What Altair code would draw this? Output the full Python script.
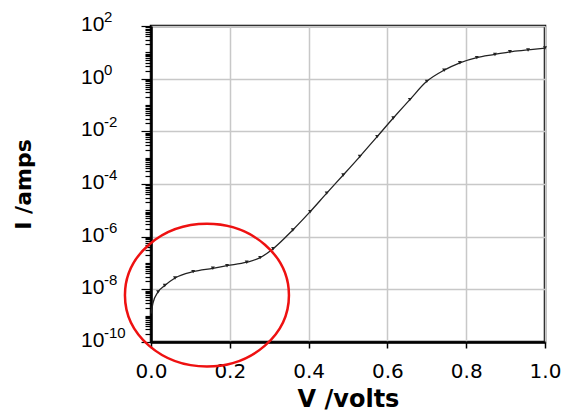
import altair as alt
import pandas as pd

# Curve data (V in volts, I in amps)
volts = [0.000, 0.005, 0.018, 0.035, 0.061, 0.107, 0.157, 0.193, 0.243, 0.277,
         0.310, 0.360, 0.404, 0.446, 0.488, 0.530, 0.574, 0.615, 0.657, 0.700,
         0.744, 0.784, 0.827, 0.873, 0.911, 0.957, 1.000]
amps = [1.2e-9, 3e-9, 8e-9, 1.4e-8, 2.7e-8, 4.7e-8, 6.3e-8, 7.9e-8, 1.07e-7, 1.6e-7,
        3.5e-7, 1.8e-6, 8.9e-6, 4.5e-5, 2.2e-4, 1.1e-3, 6.3e-3, 0.032, 0.16, 0.79,
        2.1, 4.0, 6.3, 8.3, 10.5, 12.3, 14.5]

# Y tick labels (10^exponent)
y_label_values = [1e2, 1e0, 1e-2, 1e-4, 1e-6, 1e-8, 1e-10]
y_label_exps = ["2", "0", "-2", "-4", "-6", "-8", "-10"]

# X ticks
x_ticks = [0.0, 0.2, 0.4, 0.6, 0.8, 1.0]

# Red ellipse annotation centre
ellipse_v = [0.142]
ellipse_i = [6e-9]

# minor tick positions on log axis
y_tick_values = [m * 10.0 ** e for e in range(-10, 2) for m in range(1, 10)] + [100.0]

df = pd.DataFrame({"V": volts, "I": amps})
labels_df = pd.DataFrame({"I": y_label_values, "exp": y_label_exps})
ell_df = pd.DataFrame({"V": ellipse_v, "I": ellipse_i})

major_test = ("abs(log(datum.value)/LN10 - round(log(datum.value)/LN10)) < 0.001 && "
              "round(log(datum.value)/LN10) % 2 == 0")

xscale = alt.Scale(domain=[0, 1], nice=False, zero=False)
yscale = alt.Scale(type="log", domain=[1e-10, 1e2], nice=False)

x_enc = alt.X("V:Q", scale=xscale, axis=alt.Axis(
    values=x_ticks, format=".1f", title="V /volts",
    labelFont="DejaVu Sans", labelFontSize=20, labelColor="black",
    labelFlush=False, labelPadding=13, tickSize=6, tickColor="black", tickWidth=1.5,
    domainColor="black", domainWidth=2.5,
    grid=True, gridColor="#c8c8c8", gridWidth=1.5,
    titleFont="DejaVu Sans", titleFontSize=24, titleFontWeight="bold",
    titleColor="black", titleBaseline="middle", titleY=57))

y_enc = alt.Y("I:Q", scale=yscale, axis=alt.Axis(
    values=y_tick_values, labels=False, title="I /amps",
    tickColor="black", tickWidth=1.2,
    tickSize={"condition": {"test": major_test, "value": 10}, "value": 6},
    domainColor="black", domainWidth=2.5,
    grid=True, gridColor="#c8c8c8", gridWidth=1.5,
    gridOpacity={"condition": {"test": major_test, "value": 1}, "value": 0},
    titleFont="DejaVu Sans", titleFontSize=22, titleFontWeight="bold",
    titleColor="black", titleAngle=270, titleAlign="center",
    titleBaseline="middle", titleX=-128, titleY=158))

line = alt.Chart(df).mark_line(color="#222222", strokeWidth=1.3, interpolate="monotone").encode(
    x=x_enc, y=y_enc)

pts = alt.Chart(df.iloc[2:]).mark_point(shape="triangle-down", filled=True, size=16,
                                        color="#222222", opacity=1).encode(
    x=alt.X("V:Q", scale=xscale), y=alt.Y("I:Q", scale=yscale))

ten = alt.Chart(labels_df).mark_text(text="10", font="Liberation Sans", fontSize=21,
                                     align="left", baseline="middle", dy=-1,
                                     color="black").encode(
    x=alt.value(-70), y=alt.Y("I:Q", scale=yscale))

exps = alt.Chart(labels_df).mark_text(font="Liberation Sans", fontSize=15,
                                      align="left", baseline="middle", dy=-9,
                                      color="black").encode(
    x=alt.value(-47), y=alt.Y("I:Q", scale=yscale), text="exp:N")

ellipse = alt.Chart(ell_df).mark_point(
    shape="M -1 0 A 1 0.87 0 1 1 1 0 A 1 0.87 0 1 1 -1 0 Z",
    size=26896, filled=False, stroke="#ee1111", strokeWidth=2.5, opacity=1).encode(
    x=alt.X("V:Q", scale=xscale), y=alt.Y("I:Q", scale=yscale))

chart = alt.layer(line, pts, ten, exps, ellipse).properties(
    width=394, height=316,
    autosize=alt.AutoSizeParams(type="none"),
    padding={"left": 151, "top": 26, "right": 18, "bottom": 75},
    background="white",
).configure_view(stroke="black", strokeWidth=2.5)

chart.save("out.html", embed_options={"renderer": "svg", "actions": False})
